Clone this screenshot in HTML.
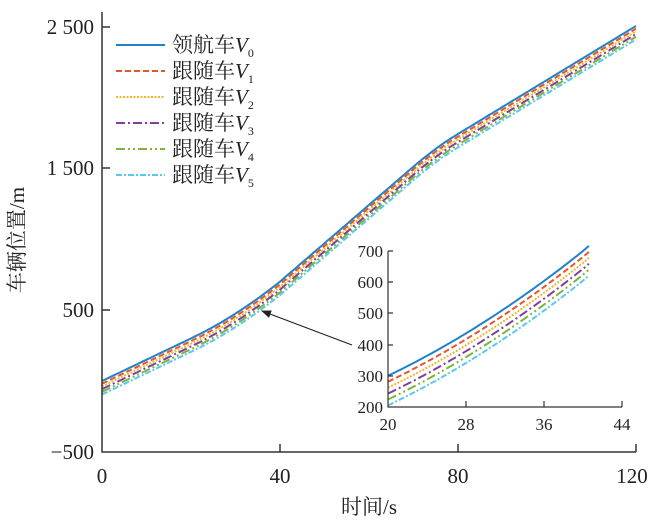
<!DOCTYPE html>
<html><head><meta charset="utf-8"><style>
body{margin:0;background:#fff}
svg{display:block}
text{font-family:"Liberation Serif","Noto Serif CJK SC",serif;fill:#222}
</style></head><body>
<svg width="672" height="526" viewBox="0 0 672 526" xmlns="http://www.w3.org/2000/svg">
<defs>
<clipPath id="mc"><rect x="102" y="20" width="540" height="432"/></clipPath>
<clipPath id="ic"><rect x="388" y="238" width="240" height="170"/></clipPath>
<marker id="ah" markerWidth="10" markerHeight="8" refX="9" refY="4" orient="auto" markerUnits="userSpaceOnUse"><path d="M0,0 L10,4 L0,8 z" fill="#222"/></marker>
</defs>
<g id="main" clip-path="url(#mc)" fill="none" stroke-width="2"></g>
<g id="inset" clip-path="url(#ic)" fill="none" stroke-width="2"></g>
<g stroke="#333" stroke-width="1.5" fill="none">
<path d="M102,12 V452 H636"/>
<path d="M280,452 v-8 M458,452 v-8 M636,452 v-8"/>
<path d="M102,27 h8 M102,168 h8 M102,310 h8"/>
</g>
<g font-size="21" text-anchor="end">
<text x="94" y="34">2 500</text>
<text x="94" y="175">1 500</text>
<text x="94" y="317">500</text>
<text x="94" y="459">−500</text>
</g>
<g font-size="21" text-anchor="middle">
<text x="102" y="483">0</text>
<text x="280" y="483">40</text>
<text x="458" y="483">80</text>
<text x="632" y="483">120</text>
<text x="369" y="514">时间/s</text>
<text transform="translate(24,240) rotate(-90)">车辆位置/m</text>
</g>
<g stroke="#333" stroke-width="1.2" fill="none">
<path d="M388,251 V407 H622"/>
<path d="M388,251 h5 M388,282 h5 M388,313 h5 M388,345 h5 M388,376 h5"/>
<path d="M466,407 v-6 M544,407 v-6 M622,407 v-6"/>
</g>
<g font-size="17" text-anchor="end">
<text x="383" y="257">700</text><text x="383" y="288">600</text><text x="383" y="319">500</text>
<text x="383" y="351">400</text><text x="383" y="382">300</text><text x="383" y="413">200</text>
</g>
<g font-size="17" text-anchor="middle">
<text x="388" y="430">20</text><text x="466" y="430">28</text><text x="544" y="430">36</text><text x="622" y="430">44</text>
</g>
<line x1="352" y1="345" x2="262" y2="311" stroke="#222" stroke-width="1.2" marker-end="url(#ah)"/>
<g stroke-width="2">
<line x1="116" y1="45" x2="165" y2="45" stroke="#1f82c8"/>
<line x1="116" y1="71" x2="165" y2="71" stroke="#E4572E" stroke-dasharray="6,3"/>
<line x1="116" y1="97" x2="165" y2="97" stroke="#F2B531" stroke-dasharray="2,1.5"/>
<line x1="116" y1="123" x2="165" y2="123" stroke="#7E3F9E" stroke-dasharray="9,3,2,3"/>
<line x1="116" y1="149" x2="165" y2="149" stroke="#7DB43A" stroke-dasharray="9,3,2,3,2,3"/>
<line x1="116" y1="175" x2="165" y2="175" stroke="#5AC8EE" stroke-dasharray="6,2,2,2"/>
</g>
<g font-size="21">
<text x="172" y="52">领航车<tspan font-style="italic">V</tspan><tspan font-size="12" dy="5">0</tspan></text>
<text x="172" y="78">跟随车<tspan font-style="italic">V</tspan><tspan font-size="12" dy="5">1</tspan></text>
<text x="172" y="104">跟随车<tspan font-style="italic">V</tspan><tspan font-size="12" dy="5">2</tspan></text>
<text x="172" y="130">跟随车<tspan font-style="italic">V</tspan><tspan font-size="12" dy="5">3</tspan></text>
<text x="172" y="156">跟随车<tspan font-style="italic">V</tspan><tspan font-size="12" dy="5">4</tspan></text>
<text x="172" y="182">跟随车<tspan font-style="italic">V</tspan><tspan font-size="12" dy="5">5</tspan></text>
</g>
<script>
function pos(t){
  if(t<=20) return 15*t;
  if(t<=40){var d=t-20;return 300+15*d+0.25*d*d;}
  if(t<=70) return 700+27*(t-40);
  if(t<=80){var d=t-70;return 1510+27*d-0.4*d*d;}
  return 1740+19*(t-80);
}
var cols=["#1f82c8","#E4572E","#F2B531","#7E3F9E","#7DB43A","#5AC8EE"];
var dash=["","6,3","2,1.5","9,3,2,3","9,3,2,3,2,3","6,2,2,2"];
var ns="http://www.w3.org/2000/svg";
var gm=document.getElementById("main"),gi=document.getElementById("inset");
for(var k=0;k<6;k++){
  var off=-19*k, d="", d2="";
  for(var t=0;t<=120;t+=0.5){
    var x=102+t*534/120, y=310-(pos(t)+off-500)*0.142;
    d+=(t?"L":"M")+x.toFixed(1)+","+y.toFixed(1);
  }
  for(var t=20;t<=40.8;t+=0.2){
    var x=388+(t-20)*9.75, y=407-(pos(t)+off-200)*0.312;
    d2+=(t>20?"L":"M")+x.toFixed(1)+","+y.toFixed(1);
  }
  [[gm,d],[gi,d2]].forEach(function(a){
    var p=document.createElementNS(ns,"path");
    p.setAttribute("d",a[1]);p.setAttribute("stroke",cols[k]);
    if(dash[k])p.setAttribute("stroke-dasharray",dash[k]);
    a[0].appendChild(p);
  });
}
</script>
</svg>
</body></html>
